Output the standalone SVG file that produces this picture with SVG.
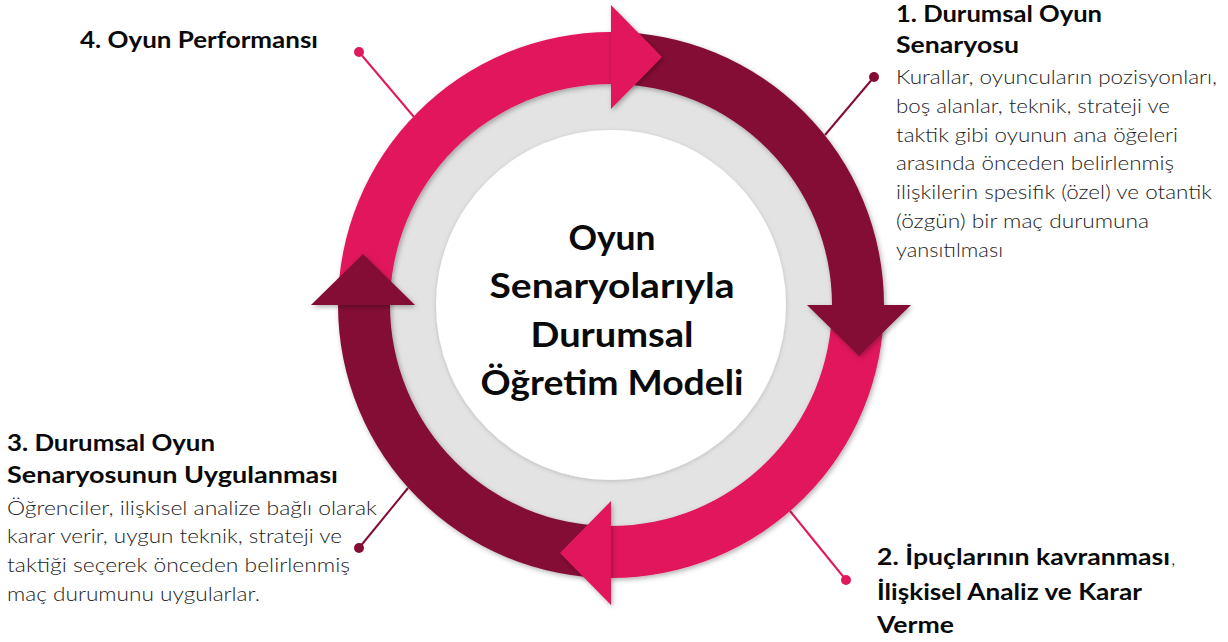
<svg xmlns="http://www.w3.org/2000/svg" width="1228" height="642" viewBox="0 0 1228 642">
<defs>
<style>
.h{font-family:Lato,"Open Sans","Noto Sans",sans-serif;font-weight:700;fill:#0a0a0a;}
.b{font-family:Lato,"Open Sans","Noto Sans",sans-serif;font-weight:300;fill:#222;font-size:20px;}
.c{font-family:Lato,"Open Sans","Noto Sans",sans-serif;font-weight:700;fill:#0a0a0a;font-size:34px;text-anchor:middle;}
.pink{fill:#E1185B;}
.dark{fill:#840D35;}
.lp{stroke:#E1185B;stroke-width:2;}
.ld{stroke:#840D35;stroke-width:2;}
</style>
<filter id="sh" x="-20%" y="-20%" width="140%" height="140%">
<feDropShadow dx="1.5" dy="2" stdDeviation="2.5" flood-color="#000" flood-opacity="0.3"/>
</filter>
<filter id="shw" x="-20%" y="-20%" width="140%" height="140%">
<feDropShadow dx="0" dy="1" stdDeviation="2" flood-color="#000" flood-opacity="0.18"/>
</filter>
</defs>
<rect width="1228" height="642" fill="#fff"/>
<g id="connectors">
<line class="lp" x1="359" y1="52" x2="414" y2="117"/>
<circle class="pink" cx="359" cy="52" r="5"/>
<line class="ld" x1="874" y1="77" x2="825" y2="135"/>
<circle class="dark" cx="874" cy="77" r="5"/>
<line class="lp" x1="846" y1="580" x2="790" y2="511"/>
<circle class="pink" cx="846" cy="580" r="5"/>
<line class="ld" x1="359" y1="548" x2="408" y2="488"/>
<circle class="dark" cx="359" cy="548" r="5"/>
</g>
<g id="cycle">
<circle cx="611" cy="305" r="226" fill="#E3E3E3"/>
<circle cx="611" cy="305" r="175" fill="#fff" filter="url(#shw)"/>
<g filter="url(#sh)">
<path class="pink" d="M338,305 A273,273 0 0 1 611,32 L611,84 A221,221 0 0 0 390,305 Z"/>
<path class="dark" d="M611,32 A273,273 0 0 1 884,305 L832,305 A221,221 0 0 0 611,84 Z"/>
<path class="pink" d="M884,305 A273,273 0 0 1 611,578 L611,526 A221,221 0 0 0 832,305 Z"/>
<path class="dark" d="M611,578 A273,273 0 0 1 338,305 L390,305 A221,221 0 0 0 611,526 Z"/>
</g>
<g filter="url(#sh)">
<polygon class="pink" points="611,5 662,57 611,109"/>
<polygon class="dark" points="807,305 859,356 911,305"/>
<polygon class="pink" points="611,501 560,553 611,605"/>
<polygon class="dark" points="311,305 363,254 415,305"/>
</g>
</g>
<g id="center">
<text class="c" x="612" y="250" textLength="87" lengthAdjust="spacingAndGlyphs">Oyun</text>
<text class="c" x="612" y="298" textLength="245" lengthAdjust="spacingAndGlyphs">Senaryolarıyla</text>
<text class="c" x="612" y="347" textLength="163" lengthAdjust="spacingAndGlyphs">Durumsal</text>
<text class="c" x="612" y="395" textLength="263" lengthAdjust="spacingAndGlyphs">Öğretim Modeli</text>
</g>
<g id="step1">
<text class="h" font-size="23" x="896" y="22" textLength="206" lengthAdjust="spacingAndGlyphs">1. Durumsal Oyun</text>
<text class="h" font-size="23" x="896" y="53" textLength="123" lengthAdjust="spacingAndGlyphs">Senaryosu</text>
<text class="b" x="896" y="84" textLength="321" lengthAdjust="spacingAndGlyphs">Kurallar, oyuncuların pozisyonları,</text>
<text class="b" x="896" y="113" textLength="274" lengthAdjust="spacingAndGlyphs">boş alanlar, teknik, strateji ve</text>
<text class="b" x="896" y="142" textLength="282" lengthAdjust="spacingAndGlyphs">taktik gibi oyunun ana öğeleri</text>
<text class="b" x="896" y="170" textLength="278" lengthAdjust="spacingAndGlyphs">arasında önceden belirlenmiş</text>
<text class="b" x="896" y="199" textLength="316" lengthAdjust="spacingAndGlyphs">ilişkilerin spesifik (özel) ve otantik</text>
<text class="b" x="896" y="228" textLength="253" lengthAdjust="spacingAndGlyphs">(özgün) bir maç durumuna</text>
<text class="b" x="896" y="257" textLength="107" lengthAdjust="spacingAndGlyphs">yansıtılması</text>
</g>
<g id="step2">
<text class="h" font-size="23" x="877" y="565" textLength="293" lengthAdjust="spacingAndGlyphs">2. İpuçlarının kavranması</text>
<text class="b" x="1171" y="565">,</text>
<text class="h" font-size="23" x="877" y="600" textLength="265" lengthAdjust="spacingAndGlyphs">İlişkisel Analiz ve Karar</text>
<text class="h" font-size="23" x="877" y="633" textLength="77" lengthAdjust="spacingAndGlyphs">Verme</text>
</g>
<g id="step3">
<text class="h" font-size="23" x="7" y="451" textLength="208" lengthAdjust="spacingAndGlyphs">3. Durumsal Oyun</text>
<text class="h" font-size="23" x="7" y="483" textLength="331" lengthAdjust="spacingAndGlyphs">Senaryosunun Uygulanması</text>
<text class="b" x="7" y="515" textLength="370" lengthAdjust="spacingAndGlyphs">Öğrenciler, ilişkisel analize bağlı olarak</text>
<text class="b" x="7" y="543" textLength="335" lengthAdjust="spacingAndGlyphs">karar verir, uygun teknik, strateji ve</text>
<text class="b" x="7" y="572" textLength="343" lengthAdjust="spacingAndGlyphs">taktiği seçerek önceden belirlenmiş</text>
<text class="b" x="7" y="601" textLength="253" lengthAdjust="spacingAndGlyphs">maç durumunu uygularlar.</text>
</g>
<g id="step4">
<text class="h" font-size="22" x="80" y="48" textLength="238" lengthAdjust="spacingAndGlyphs">4. Oyun Performansı</text>
</g>
</svg>
